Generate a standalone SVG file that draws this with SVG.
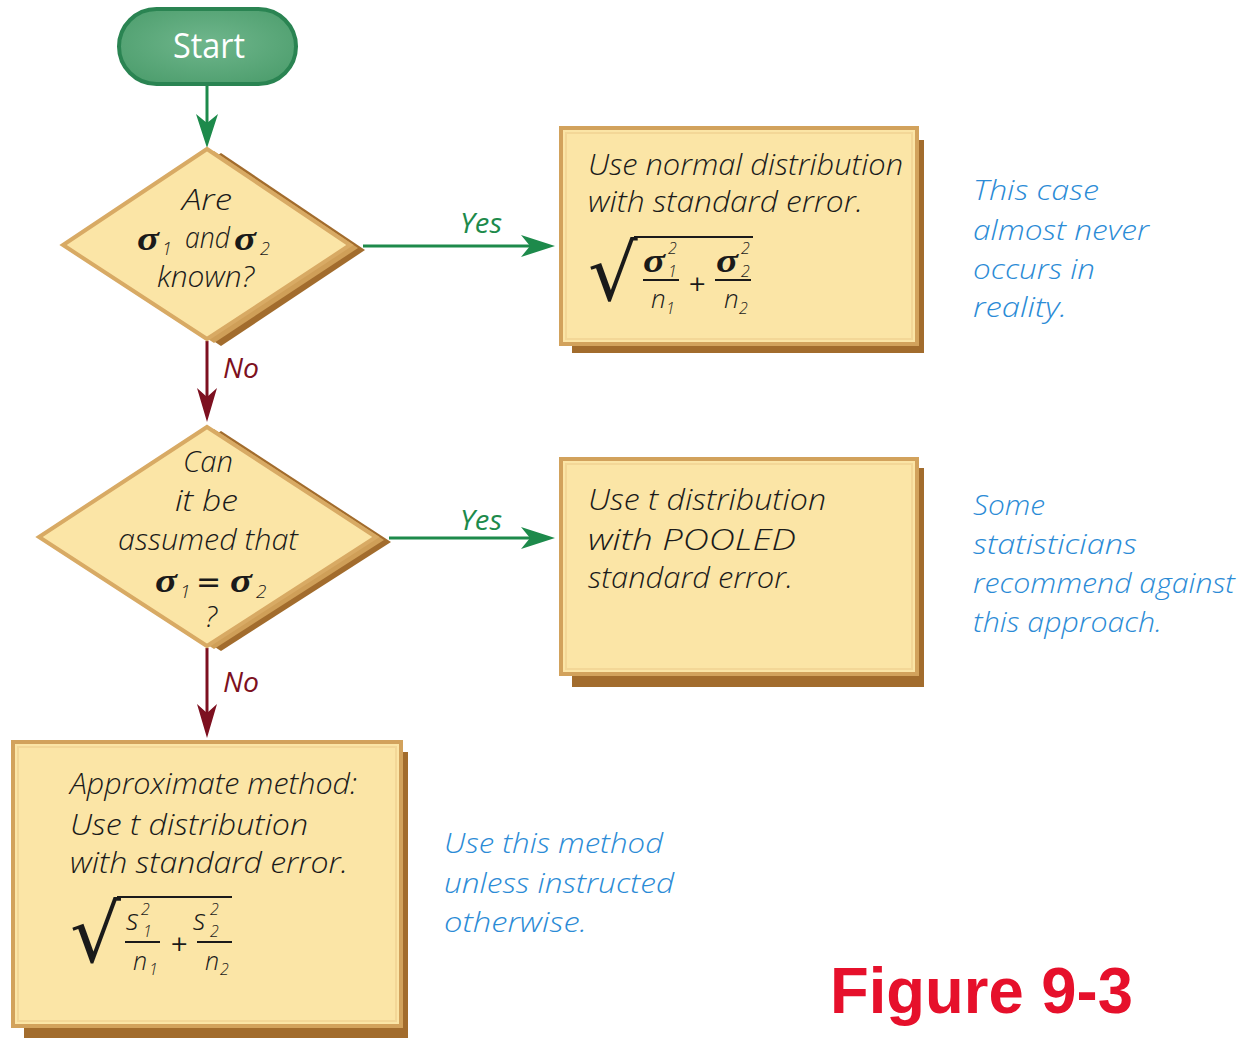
<svg xmlns="http://www.w3.org/2000/svg" width="1242" height="1038" viewBox="0 0 1242 1038">
<style>
.hw{font-family:"Open Sans","DejaVu Sans",sans-serif;font-style:italic;font-weight:300;font-size:29px;fill:#1a1a1a}
.sm{font-family:"Open Sans","DejaVu Sans",sans-serif;font-style:italic;font-weight:300;font-size:16px;fill:#1a1a1a}
.sig{font-family:"Liberation Serif","DejaVu Serif",serif;font-weight:bold;font-style:italic;font-size:34px;fill:#1a1a1a}
.note{font-family:"Open Sans","DejaVu Sans",sans-serif;font-style:italic;font-weight:300;font-size:27px;fill:#2b8bd6}
.yes{font-family:"Open Sans","DejaVu Sans",sans-serif;font-style:italic;font-size:27px;fill:#1d8a4b}
.no{font-family:"Open Sans","DejaVu Sans",sans-serif;font-style:italic;font-size:27px;fill:#7d1020}
.rad{font-family:"DejaVu Sans",sans-serif;fill:#1a1a1a}
.bar{stroke:#1a1a1a;stroke-width:2}
.shd{fill:#a26c2d}
.shm{fill:#cf9f58}
.box{fill:#fbe5a6;stroke:#d2a25c;stroke-width:4}
.boxin{fill:none;stroke:#f3d797;stroke-width:2}
.dia{fill:#fbe5a6;stroke:#d8aa64;stroke-width:4;stroke-linejoin:miter}
.cg{fill:none;stroke:#1d8a4b;stroke-width:3}
.cr{fill:none;stroke:#7d1020;stroke-width:3}
</style>
<defs>
<radialGradient id="gs" cx="50%" cy="45%" r="60%">
<stop offset="0" stop-color="#6fb68c"/><stop offset="1" stop-color="#4f9f6f"/>
</radialGradient>
<marker id="ag" markerUnits="userSpaceOnUse" markerWidth="36" markerHeight="24" viewBox="0 0 34 24" refX="16" refY="12" orient="auto">
<path d="M0,1 L34,12 L0,23 L9,12 Z" fill="#1d8a4b"/>
</marker>
<marker id="ar" markerUnits="userSpaceOnUse" markerWidth="36" markerHeight="24" viewBox="0 0 34 24" refX="16" refY="12" orient="auto">
<path d="M0,2 L34,12 L0,22 L9,12 Z" fill="#7d1020"/>
</marker>
</defs>
<rect width="1242" height="1038" fill="#ffffff"/>

<g id="connectors">
<path class="cg" d="M207,85 V130" marker-end="url(#ag)"/>
<path class="cg" d="M363,246 H537" marker-end="url(#ag)"/>
<path class="cr" d="M207,341 V404" marker-end="url(#ar)"/>
<path class="cg" d="M389,538 H537" marker-end="url(#ag)"/>
<path class="cr" d="M207,648 V720" marker-end="url(#ar)"/>
<text class="yes" x="460" y="233" textLength="42" lengthAdjust="spacingAndGlyphs">Yes</text>
<text class="yes" x="460" y="530" textLength="42" lengthAdjust="spacingAndGlyphs">Yes</text>
<text class="no" x="223" y="378" textLength="36" lengthAdjust="spacingAndGlyphs">No</text>
<text class="no" x="223" y="692" textLength="36" lengthAdjust="spacingAndGlyphs">No</text>
</g>

<g id="start">
<rect x="119" y="9" width="177" height="75" rx="37.5" fill="url(#gs)" stroke="#2a8452" stroke-width="4"/>
<text x="173" y="58" textLength="72" lengthAdjust="spacingAndGlyphs" style="font-family:'Open Sans','DejaVu Sans',sans-serif;font-size:34px;fill:#ffffff">Start</text>
</g>

<g id="decision1">
<polygon class="shd" points="221,153 365,250 221,346 77,250"/>
<polygon class="shm" points="214,151 358,248 214,343 70,248"/>
<polygon class="dia" points="207,149 350,245 207,339 63,245"/>
<text class="hw" x="182" y="210" textLength="50" lengthAdjust="spacingAndGlyphs">Are</text>
<text class="sig" x="137" y="250" textLength="22" lengthAdjust="spacingAndGlyphs">σ</text>
<text class="sm" x="162" y="255" style="font-size:18px">1</text>
<text class="hw" x="185" y="248" textLength="45" lengthAdjust="spacingAndGlyphs">and</text>
<text class="sig" x="234" y="250" textLength="22" lengthAdjust="spacingAndGlyphs">σ</text>
<text class="sm" x="260" y="255" style="font-size:18px">2</text>
<text class="hw" x="157" y="287" textLength="97" lengthAdjust="spacingAndGlyphs">known?</text>
</g>

<g id="decision2">
<polygon class="shd" points="221,431 391,542 221,651 52,542"/>
<polygon class="shm" points="214,429 384,540 214,649 45,540"/>
<polygon class="dia" points="207,427 376,537 207,646 39,537"/>
<text class="hw" x="183" y="472" textLength="50" lengthAdjust="spacingAndGlyphs">Can</text>
<text class="hw" x="175" y="511" textLength="63" lengthAdjust="spacingAndGlyphs">it be</text>
<text class="hw" x="118" y="550" textLength="180" lengthAdjust="spacingAndGlyphs">assumed that</text>
<text class="sig" x="155" y="592" textLength="22" lengthAdjust="spacingAndGlyphs">σ</text>
<text class="sm" x="180" y="598" style="font-size:19px">1</text>
<text x="196" y="592" style="font-family:'DejaVu Sans',sans-serif;font-size:30px;fill:#1a1a1a">=</text>
<text class="sig" x="230" y="592" textLength="22" lengthAdjust="spacingAndGlyphs">σ</text>
<text class="sm" x="256" y="598" style="font-size:19px">2</text>
<text class="hw" x="205" y="627">?</text>
</g>

<g id="box1">
<rect class="shd" x="572" y="140" width="352" height="213"/>
<rect class="box" x="561" y="128" width="356" height="216"/>
<rect class="boxin" x="566" y="133" width="346" height="206"/>
<text class="hw" x="588" y="175" textLength="315" lengthAdjust="spacingAndGlyphs">Use normal distribution</text>
<text class="hw" x="588" y="212" textLength="275" lengthAdjust="spacingAndGlyphs">with standard error.</text>
<text class="rad" x="0" y="0" transform="translate(588,300)" font-size="78">√</text>
<line class="bar" x1="634" y1="237" x2="753" y2="237"/>
<text class="sig" x="643" y="272" textLength="22" lengthAdjust="spacingAndGlyphs">σ</text>
<text class="sm" x="668" y="254">2</text>
<text class="sm" x="668" y="277">1</text>
<line class="bar" x1="643" y1="280" x2="679" y2="280"/>
<text class="hw" x="651" y="308" style="font-size:26px">n</text>
<text class="sm" x="666" y="314">1</text>
<text x="688" y="291" style="font-family:'DejaVu Sans',sans-serif;font-size:22px;fill:#1a1a1a">+</text>
<text class="sig" x="716" y="272" textLength="22" lengthAdjust="spacingAndGlyphs">σ</text>
<text class="sm" x="741" y="254">2</text>
<text class="sm" x="741" y="277">2</text>
<line class="bar" x1="715" y1="280" x2="751" y2="280"/>
<text class="hw" x="724" y="308" style="font-size:26px">n</text>
<text class="sm" x="739" y="314">2</text>
</g>

<g id="box2">
<rect class="shd" x="572" y="468" width="352" height="219"/>
<rect class="box" x="561" y="459" width="356" height="215"/>
<rect class="boxin" x="566" y="464" width="346" height="205"/>
<text class="hw" x="588" y="510" textLength="238" lengthAdjust="spacingAndGlyphs">Use t distribution</text>
<text class="hw" x="588" y="550" textLength="208" lengthAdjust="spacingAndGlyphs">with POOLED</text>
<text class="hw" x="588" y="588" textLength="205" lengthAdjust="spacingAndGlyphs">standard error.</text>
</g>

<g id="box3">
<rect class="shd" x="24" y="752" width="384" height="286"/>
<rect class="box" x="13" y="742" width="388" height="284"/>
<rect class="boxin" x="18" y="747" width="378" height="274"/>
<text class="hw" x="70" y="794" textLength="287" lengthAdjust="spacingAndGlyphs">Approximate method:</text>
<text class="hw" x="70" y="835" textLength="238" lengthAdjust="spacingAndGlyphs">Use t distribution</text>
<text class="hw" x="70" y="873" textLength="278" lengthAdjust="spacingAndGlyphs">with standard error.</text>
<text class="rad" x="0" y="0" transform="translate(70,962)" font-size="80">√</text>
<line class="bar" x1="117" y1="897" x2="232" y2="897"/>
<text class="hw" x="126" y="930" style="font-size:30px">s</text>
<text class="sm" x="141" y="915">2</text>
<text class="sm" x="143" y="937">1</text>
<line class="bar" x1="125" y1="942" x2="160" y2="942"/>
<text class="hw" x="133" y="970" style="font-size:25px">n</text>
<text class="sm" x="149" y="975">1</text>
<text x="170" y="951" style="font-family:'DejaVu Sans',sans-serif;font-size:22px;fill:#1a1a1a">+</text>
<text class="hw" x="193" y="930" style="font-size:30px">s</text>
<text class="sm" x="210" y="915">2</text>
<text class="sm" x="210" y="937">2</text>
<line class="bar" x1="197" y1="942" x2="232" y2="942"/>
<text class="hw" x="205" y="970" style="font-size:25px">n</text>
<text class="sm" x="220" y="975">2</text>
</g>

<g id="note1">
<text class="note" x="973" y="200" textLength="126" lengthAdjust="spacingAndGlyphs">This case</text>
<text class="note" x="973" y="240" textLength="176" lengthAdjust="spacingAndGlyphs">almost never</text>
<text class="note" x="973" y="279" textLength="122" lengthAdjust="spacingAndGlyphs">occurs in</text>
<text class="note" x="973" y="317" textLength="94" lengthAdjust="spacingAndGlyphs">reality.</text>
</g>
<g id="note2">
<text class="note" x="973" y="515" textLength="72" lengthAdjust="spacingAndGlyphs">Some</text>
<text class="note" x="973" y="554" textLength="164" lengthAdjust="spacingAndGlyphs">statisticians</text>
<text class="note" x="973" y="593" textLength="262" lengthAdjust="spacingAndGlyphs">recommend against</text>
<text class="note" x="973" y="632" textLength="189" lengthAdjust="spacingAndGlyphs">this approach.</text>
</g>
<g id="note3">
<text class="note" x="444" y="853" textLength="219" lengthAdjust="spacingAndGlyphs">Use this method</text>
<text class="note" x="444" y="893" textLength="230" lengthAdjust="spacingAndGlyphs">unless instructed</text>
<text class="note" x="444" y="932" textLength="143" lengthAdjust="spacingAndGlyphs">otherwise.</text>
</g>
<g id="caption">
<text x="830" y="1013" textLength="303" lengthAdjust="spacingAndGlyphs" style="font-family:'Liberation Sans',Arial,sans-serif;font-weight:bold;font-size:64px;fill:#e6102b">Figure 9-3</text>
</g>
</svg>
